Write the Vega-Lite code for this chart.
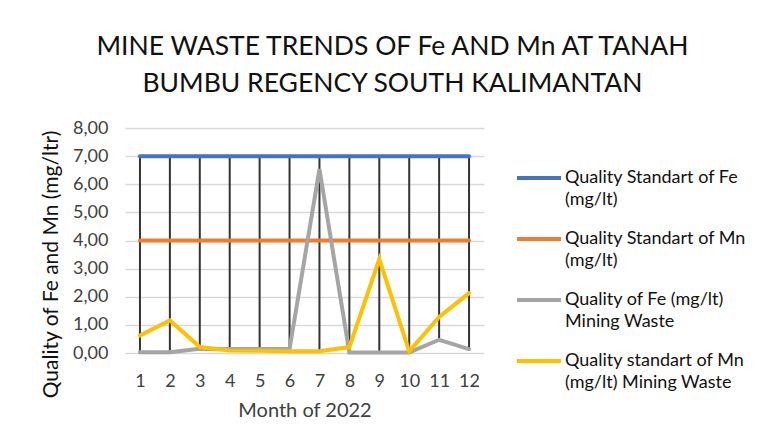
{
  "$schema": "https://vega.github.io/schema/vega-lite/v6.json",
  "autosize": {"type": "none"},
  "width": 359,
  "height": 225,
  "padding": {"left": 125, "top": 128, "right": 274, "bottom": 95},
  "background": "white",
  "config": {
    "font": "Lato",
    "view": {"stroke": null},
    "locale": {"number": {"decimal": ",", "thousands": ".", "grouping": [3], "currency": ["", ""]}}
  },
  "title": {
    "text": ["MINE WASTE TRENDS OF Fe AND Mn AT TANAH", "BUMBU REGENCY SOUTH KALIMANTAN"],
    "fontSize": 26.5,
    "fontWeight": "normal",
    "color": "#111111",
    "lineHeight": 37,
    "anchor": "middle",
    "dx": 88,
    "offset": 22
  },
  "data": {
    "values": [
      {"month": 1, "series": "Quality Standart of Fe (mg/lt)", "value": 7},
      {"month": 2, "series": "Quality Standart of Fe (mg/lt)", "value": 7},
      {"month": 3, "series": "Quality Standart of Fe (mg/lt)", "value": 7},
      {"month": 4, "series": "Quality Standart of Fe (mg/lt)", "value": 7},
      {"month": 5, "series": "Quality Standart of Fe (mg/lt)", "value": 7},
      {"month": 6, "series": "Quality Standart of Fe (mg/lt)", "value": 7},
      {"month": 7, "series": "Quality Standart of Fe (mg/lt)", "value": 7},
      {"month": 8, "series": "Quality Standart of Fe (mg/lt)", "value": 7},
      {"month": 9, "series": "Quality Standart of Fe (mg/lt)", "value": 7},
      {"month": 10, "series": "Quality Standart of Fe (mg/lt)", "value": 7},
      {"month": 11, "series": "Quality Standart of Fe (mg/lt)", "value": 7},
      {"month": 12, "series": "Quality Standart of Fe (mg/lt)", "value": 7},
      {"month": 1, "series": "Quality Standart of Mn (mg/lt)", "value": 4},
      {"month": 2, "series": "Quality Standart of Mn (mg/lt)", "value": 4},
      {"month": 3, "series": "Quality Standart of Mn (mg/lt)", "value": 4},
      {"month": 4, "series": "Quality Standart of Mn (mg/lt)", "value": 4},
      {"month": 5, "series": "Quality Standart of Mn (mg/lt)", "value": 4},
      {"month": 6, "series": "Quality Standart of Mn (mg/lt)", "value": 4},
      {"month": 7, "series": "Quality Standart of Mn (mg/lt)", "value": 4},
      {"month": 8, "series": "Quality Standart of Mn (mg/lt)", "value": 4},
      {"month": 9, "series": "Quality Standart of Mn (mg/lt)", "value": 4},
      {"month": 10, "series": "Quality Standart of Mn (mg/lt)", "value": 4},
      {"month": 11, "series": "Quality Standart of Mn (mg/lt)", "value": 4},
      {"month": 12, "series": "Quality Standart of Mn (mg/lt)", "value": 4},
      {"month": 1, "series": "Quality of Fe (mg/lt) Mining Waste", "value": 0.03},
      {"month": 2, "series": "Quality of Fe (mg/lt) Mining Waste", "value": 0.03},
      {"month": 3, "series": "Quality of Fe (mg/lt) Mining Waste", "value": 0.15},
      {"month": 4, "series": "Quality of Fe (mg/lt) Mining Waste", "value": 0.14},
      {"month": 5, "series": "Quality of Fe (mg/lt) Mining Waste", "value": 0.14},
      {"month": 6, "series": "Quality of Fe (mg/lt) Mining Waste", "value": 0.14},
      {"month": 7, "series": "Quality of Fe (mg/lt) Mining Waste", "value": 6.54},
      {"month": 8, "series": "Quality of Fe (mg/lt) Mining Waste", "value": 0.02},
      {"month": 9, "series": "Quality of Fe (mg/lt) Mining Waste", "value": 0.02},
      {"month": 10, "series": "Quality of Fe (mg/lt) Mining Waste", "value": 0.02},
      {"month": 11, "series": "Quality of Fe (mg/lt) Mining Waste", "value": 0.47},
      {"month": 12, "series": "Quality of Fe (mg/lt) Mining Waste", "value": 0.14},
      {"month": 1, "series": "Quality standart of Mn (mg/lt) Mining Waste", "value": 0.62},
      {"month": 2, "series": "Quality standart of Mn (mg/lt) Mining Waste", "value": 1.16},
      {"month": 3, "series": "Quality standart of Mn (mg/lt) Mining Waste", "value": 0.21},
      {"month": 4, "series": "Quality standart of Mn (mg/lt) Mining Waste", "value": 0.09},
      {"month": 5, "series": "Quality standart of Mn (mg/lt) Mining Waste", "value": 0.08},
      {"month": 6, "series": "Quality standart of Mn (mg/lt) Mining Waste", "value": 0.06},
      {"month": 7, "series": "Quality standart of Mn (mg/lt) Mining Waste", "value": 0.06},
      {"month": 8, "series": "Quality standart of Mn (mg/lt) Mining Waste", "value": 0.21},
      {"month": 9, "series": "Quality standart of Mn (mg/lt) Mining Waste", "value": 3.34},
      {"month": 10, "series": "Quality standart of Mn (mg/lt) Mining Waste", "value": 0.06},
      {"month": 11, "series": "Quality standart of Mn (mg/lt) Mining Waste", "value": 1.28},
      {"month": 12, "series": "Quality standart of Mn (mg/lt) Mining Waste", "value": 2.13}
    ]
  },
  "encoding": {
    "x": {
      "field": "month",
      "type": "ordinal",
      "scale": {"type": "point", "padding": 0.5},
      "axis": {
        "title": "Month of 2022",
        "titleFontSize": 20,
        "titleFontWeight": "normal",
        "titleColor": "#404040",
        "titlePadding": 10,
        "labelAngle": 0,
        "labelFontSize": 18,
        "labelColor": "#404040",
        "labelPadding": 19,
        "ticks": false,
        "domain": false,
        "grid": false
      }
    },
    "y": {
      "field": "value",
      "type": "quantitative",
      "scale": {"domain": [0, 8]},
      "axis": {
        "title": "Quality of Fe and Mn (mg/ltr)",
        "titleFontSize": 21,
        "titleFontWeight": "normal",
        "titleColor": "#111111",
        "titleY": 136,
        "titlePadding": 11,
        "values": [0, 1, 2, 3, 4, 5, 6, 7, 8],
        "labelOverlap": false,
        "format": ".2f",
        "labelFontSize": 18,
        "labelColor": "#404040",
        "labelPadding": 17,
        "ticks": false,
        "domain": false,
        "gridColor": "#D9D9D9",
        "gridWidth": 1.5
      }
    }
  },
  "layer": [
    {
      "mark": {"type": "rule", "color": "#333333", "strokeWidth": 2},
      "encoding": {
        "y": {"aggregate": "max", "field": "value", "type": "quantitative", "title": "Quality of Fe and Mn (mg/ltr)"},
        "y2": {"aggregate": "min", "field": "value"}
      }
    },
    {
      "mark": {"type": "line", "strokeWidth": 4, "strokeCap": "round"},
      "encoding": {
        "color": {
          "field": "series",
          "type": "nominal",
          "sort": null,
          "scale": {
            "domain": ["Quality Standart of Fe (mg/lt)", "Quality Standart of Mn (mg/lt)", "Quality of Fe (mg/lt) Mining Waste", "Quality standart of Mn (mg/lt) Mining Waste"],
            "range": ["#4472C4", "#ED7D31", "#A5A5A5", "#FFC000"]
          },
          "legend": {
            "title": null,
            "orient": "none",
            "legendX": 390,
            "legendY": 26,
            "symbolType": "stroke",
            "symbolSize": 1936,
            "symbolStrokeWidth": 4,
            "labelFontSize": 18,
            "labelColor": "#111111",
            "labelOffset": 2,
            "rowPadding": 6,
            "labelLimit": 300,
            "encode": {"labels": {"update": {"lineHeight": {"value": 22}}}},
            "labelExpr": "datum.label == 'Quality Standart of Fe (mg/lt)' ? ['Quality Standart of Fe', '(mg/lt)'] : datum.label == 'Quality Standart of Mn (mg/lt)' ? ['Quality Standart of Mn', '(mg/lt)'] : datum.label == 'Quality of Fe (mg/lt) Mining Waste' ? ['Quality of Fe (mg/lt)', 'Mining Waste'] : ['Quality standart of Mn', '(mg/lt) Mining Waste']"
          }
        }
      }
    }
  ]
}
